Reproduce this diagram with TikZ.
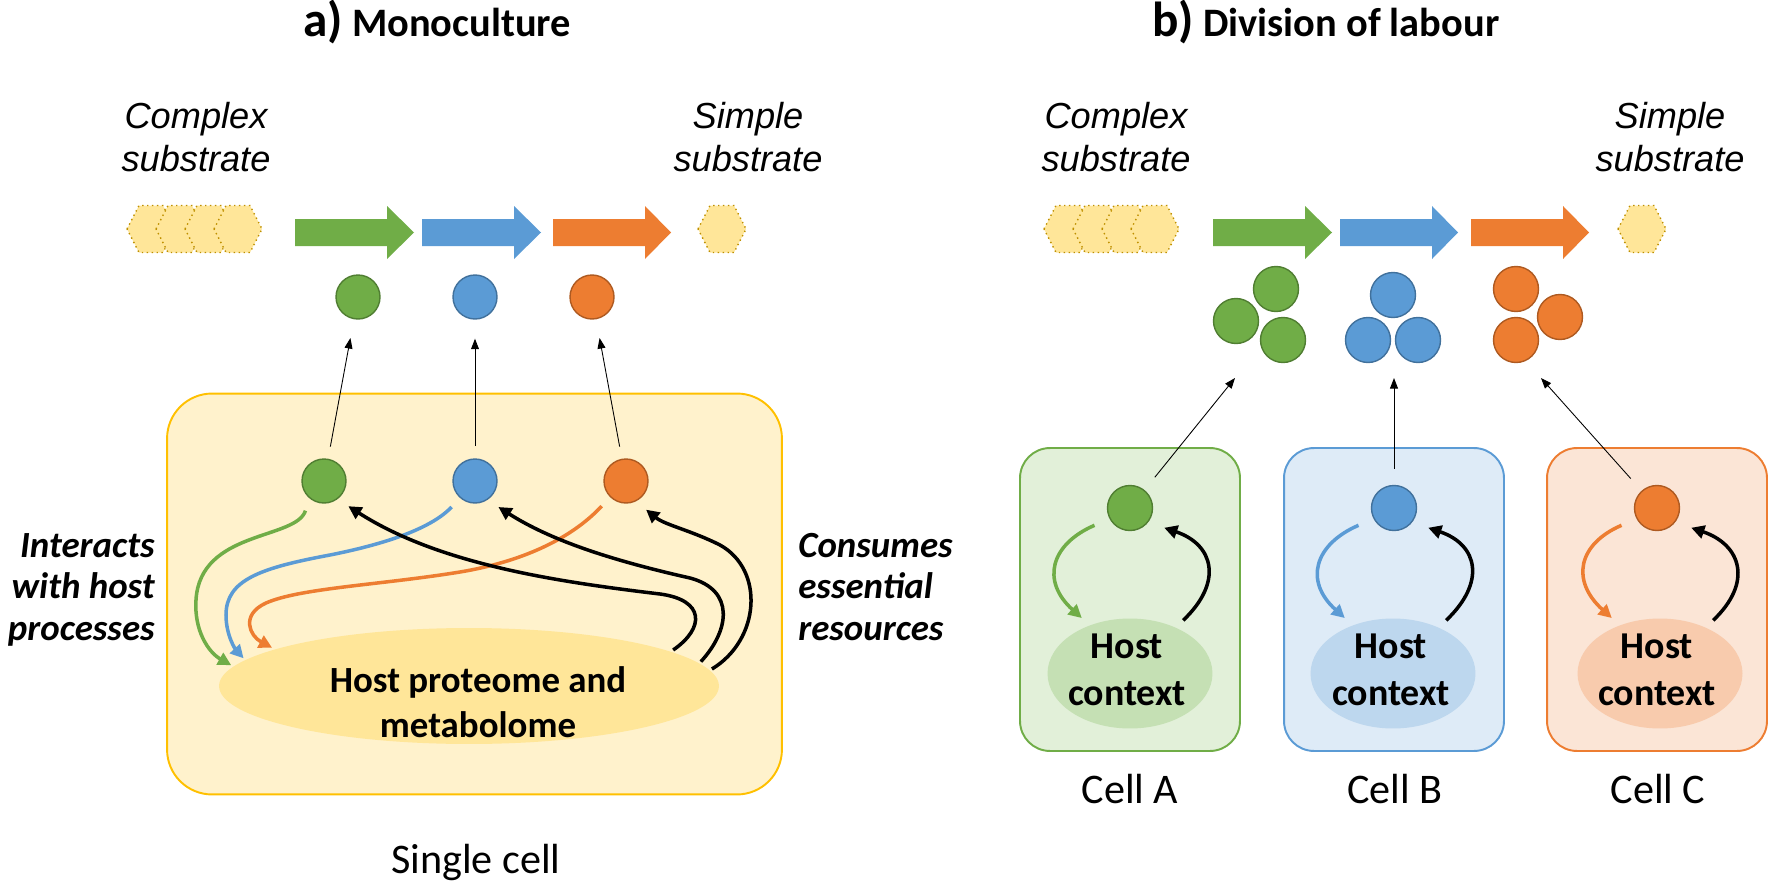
\documentclass[tikz,border=0pt]{standalone}
\usepackage{fontspec}
\setmainfont{Carlito}
\newfontfamily\substratefont{Liberation Sans}
\usetikzlibrary{shapes.geometric, arrows.meta}
\definecolor{EnzGreen}{HTML}{70AD47}
\definecolor{EnzGreenLine}{HTML}{507E32}
\definecolor{EnzBlue}{HTML}{5B9BD5}
\definecolor{EnzBlueLine}{HTML}{41719C}
\definecolor{EnzOrange}{HTML}{ED7D31}
\definecolor{EnzOrangeLine}{HTML}{AE5A21}
\definecolor{HexFill}{HTML}{FFE699}
\definecolor{HexLine}{HTML}{BF9000}
\definecolor{CellFill}{HTML}{FFF2CC}
\definecolor{CellLine}{HTML}{FFC000}
\definecolor{HostFill}{HTML}{FFE699}
\definecolor{CellAFill}{HTML}{E2F0D9}
\definecolor{CellBFill}{HTML}{DEEBF7}
\definecolor{CellCFill}{HTML}{FBE5D6}
\definecolor{HostAFill}{HTML}{C5E0B4}
\definecolor{HostBFill}{HTML}{BDD7EE}
\definecolor{HostCFill}{HTML}{F8CBAD}
\tikzset{
    title/.style={font=\fontsize{23}{28}\selectfont\bfseries, inner sep=0pt},
    substrate/.style={font=\substratefont\itshape\fontsize{20.6}{25}\selectfont, align=center, anchor=base, inner sep=0pt},
    sidelabel/.style={font=\fontsize{21}{23.5}\selectfont\bfseries\itshape, inner sep=0pt},
    celllabel/.style={font=\fontsize{24}{28}\selectfont, anchor=base, inner sep=0pt},
    hosttext/.style={font=\fontsize{21}{25.6}\selectfont\bfseries, align=center, anchor=base, inner sep=0pt},
    hexa/.style={fill=HexFill, draw=HexLine, line width=0.8pt, dotted},
    enzyme/.style={circle, minimum size=0.88cm, inner sep=0pt, line width=0.8pt},
    inner/.style={enzyme, outer sep=0.26cm},
    cellenz/.style={enzyme, minimum size=0.9cm, outer sep=0.34cm},
    cellbox/.style={rounded corners=0.6cm, line width=1.1pt, minimum width=4.4cm, minimum height=6.06cm, inner sep=0pt},
    hostctx/.style={ellipse, minimum width=3.3cm, minimum height=2.2cm, inner sep=0pt, outer sep=0.2cm},
    smallarr/.style={-{Triangle[length=6pt,width=4.5pt]}, line width=0.5pt},
    curvearr/.style={-{Triangle[length=7.5pt,width=7.5pt]}, line width=2pt}
}
\newcommand{\substratehex}[2]{%
  \draw[hexa] (#1-24,#2) -- (#1-12,#2-23.5) -- (#1+12,#2-23.5) -- (#1+24,#2)
    -- (#1+12,#2+23.5) -- (#1-12,#2+23.5) -- cycle;}
\newcommand{\flowarrow}[4]{%
  \fill[#4] (#1,219) -- (#2,219) -- (#2,206) -- (#3,232.5) -- (#2,259)
    -- (#2,246) -- (#1,246) -- cycle;}

\begin{document}
\begin{tikzpicture}[x=0.02cm, y=-0.02cm]
  \useasboundingbox (0,0) rectangle (1769,882);

  % titles
  \node[title, anchor=base west] (titlea) at (303,37) {{\fontsize{28}{30}\selectfont a)}\ Monoculture};
  \node[title, anchor=base west] (titleb) at (1152,37) {{\fontsize{28}{30}\selectfont b)}\ Division of labour};

  % ---- a) monoculture ----
  \node[substrate] (complexa) at (196,172) {Complex\\substrate};
  \node[substrate] (simplea) at (748,172) {Simple\\substrate};

  \substratehex{151}{229}
  \substratehex{180}{229}
  \substratehex{209}{229}
  \substratehex{238}{229}
  \substratehex{722}{229}

  \flowarrow{295}{387}{414}{EnzGreen}
  \flowarrow{422}{514}{541}{EnzBlue}
  \flowarrow{553}{645}{671}{EnzOrange}

  \node[enzyme, fill=EnzGreen, draw=EnzGreenLine] (pg) at (358,297) {};
  \node[enzyme, fill=EnzBlue, draw=EnzBlueLine] (pb) at (475,297) {};
  \node[enzyme, fill=EnzOrange, draw=EnzOrangeLine] (po) at (592,297) {};

  \node[cellbox, rounded corners=0.9cm, fill=CellFill, draw=CellLine, minimum width=12.3cm, minimum height=8.02cm] (cell) at (474.5,594) {};
  \node[ellipse, fill=HostFill, minimum width=10cm, minimum height=2.32cm, inner sep=0pt, outer sep=0.06cm] (host) at (469,686) {};
  \node[hosttext] (hosttxt) at (478,737) {Host proteome and\\metabolome};

  \node[inner, fill=EnzGreen, draw=EnzGreenLine] (ig) at (324,481) {};
  \node[inner, fill=EnzBlue, draw=EnzBlueLine] (ib) at (475,481) {};
  \node[inner, fill=EnzOrange, draw=EnzOrangeLine] (io) at (626,481) {};

  \draw[smallarr, shorten >=0.38cm] (ig) -- (pg);
  \draw[smallarr, shorten >=0.38cm] (ib) -- (pb);
  \draw[smallarr, shorten >=0.38cm] (io) -- (po);

  % enzymes acting on the host
  \draw[curvearr, EnzGreen] (ig.238) .. controls (296,540) and (200,530) .. (196,600)
    .. controls (194,630) and (208,652) .. (host.175);
  \draw[curvearr, EnzBlue] (ib.228) .. controls (430,530) and (380,545) .. (330,555)
    .. controls (260,568) and (226,580) .. (226,615) .. controls (226,636) and (236,650) .. (host.173);
  \draw[curvearr, EnzOrange] (io.226) .. controls (570,540) and (520,562) .. (460,572)
    .. controls (380,585) and (300,588) .. (266,603) .. controls (240,615) and (250,636) .. (host.169);

  % host resources consumed
  \draw[curvearr] (host.10) .. controls (705,628) and (705,600) .. (660,594)
    .. controls (560,582) and (440,565) .. (ig.314);
  \draw[curvearr] (host.6) .. controls (730,630) and (735,590) .. (690,578)
    .. controls (610,560) and (550,540) .. (ib.312);
  \draw[curvearr] (host.4) .. controls (760,640) and (765,570) .. (720,545)
    .. controls (690,530) and (665,525) .. (io.305);

  \node[sidelabel, anchor=base east, align=right] (interacts) at (155,640) {Interacts\\with host\\processes};
  \node[sidelabel, anchor=base west, align=left] (consumes) at (798,640) {Consumes\\essential\\resources};
  \node[celllabel] (single) at (476,873) {Single cell};

  % ---- b) division of labour ----
  \node[substrate] (complexb) at (1116,172) {Complex\\substrate};
  \node[substrate] (simpleb) at (1670,172) {Simple\\substrate};

  \substratehex{1068}{229}
  \substratehex{1097}{229}
  \substratehex{1126}{229}
  \substratehex{1155}{229}
  \substratehex{1642}{229}

  \flowarrow{1213}{1305}{1332}{EnzGreen}
  \flowarrow{1340}{1432}{1458}{EnzBlue}
  \flowarrow{1471}{1563}{1589}{EnzOrange}

  \node[enzyme, minimum size=0.9cm, fill=EnzGreen, draw=EnzGreenLine] (ga1) at (1276,289) {};
  \node[enzyme, minimum size=0.9cm, fill=EnzGreen, draw=EnzGreenLine] (ga2) at (1236,321) {};
  \node[enzyme, minimum size=0.9cm, fill=EnzGreen, draw=EnzGreenLine] (ga3) at (1283,340) {};
  \node[enzyme, minimum size=0.9cm, fill=EnzBlue, draw=EnzBlueLine] (ba1) at (1393,295) {};
  \node[enzyme, minimum size=0.9cm, fill=EnzBlue, draw=EnzBlueLine] (ba2) at (1368,340) {};
  \node[enzyme, minimum size=0.9cm, fill=EnzBlue, draw=EnzBlueLine] (ba3) at (1418,340) {};
  \node[enzyme, minimum size=0.9cm, fill=EnzOrange, draw=EnzOrangeLine] (oa1) at (1516,289) {};
  \node[enzyme, minimum size=0.9cm, fill=EnzOrange, draw=EnzOrangeLine] (oa2) at (1560,317) {};
  \node[enzyme, minimum size=0.9cm, fill=EnzOrange, draw=EnzOrangeLine] (oa3) at (1516,340) {};

  \node[cellbox, fill=CellAFill, draw=EnzGreen] (cella) at (1130,599.5) {};
  \node[cellbox, fill=CellBFill, draw=EnzBlue] (cellb) at (1394,599.5) {};
  \node[cellbox, fill=CellCFill, draw=EnzOrange] (cellc) at (1657,599.5) {};

  \node[hostctx, fill=HostAFill] (ha) at (1130,673.5) {};
  \node[hostctx, fill=HostBFill] (hb) at (1393,673.5) {};
  \node[hostctx, fill=HostCFill] (hc) at (1660,673.5) {};
  \node[hosttext, font=\fontsize{21.6}{26.7}\selectfont\bfseries] (ta) at (1127,705) {Host\\context};
  \node[hosttext, font=\fontsize{21.6}{26.7}\selectfont\bfseries] (tb) at (1391,705) {Host\\context};
  \node[hosttext, font=\fontsize{21.6}{26.7}\selectfont\bfseries] (tc) at (1657,705) {Host\\context};

  \node[cellenz, fill=EnzGreen, draw=EnzGreenLine] (ea) at (1130,508) {};
  \node[cellenz, fill=EnzBlue, draw=EnzBlueLine] (eb) at (1394,508) {};
  \node[cellenz, fill=EnzOrange, draw=EnzOrangeLine] (ec) at (1657,508) {};

  \coordinate (tipa) at (1235,378);
  \coordinate (tipb) at (1394,378);
  \coordinate (tipc) at (1541,378);
  \draw[smallarr] (ea) -- (tipa);
  \draw[smallarr] (eb) -- (tipb);
  \draw[smallarr] (ec) -- (tipc);

  \draw[curvearr, EnzGreen] (ea.206) .. controls +(-44,19) and +(-41,-37) .. (ha.131);
  \draw[curvearr] (ha.45) .. controls +(40,-38) and +(50,17) .. (ea.330);
  \draw[curvearr, EnzBlue] (eb.206) .. controls +(-44,19) and +(-41,-37) .. (hb.131);
  \draw[curvearr] (hb.45) .. controls +(40,-38) and +(50,17) .. (eb.330);
  \draw[curvearr, EnzOrange] (ec.206) .. controls +(-44,19) and +(-41,-37) .. (hc.131);
  \draw[curvearr] (hc.45) .. controls +(40,-38) and +(50,17) .. (ec.330);

  \node[celllabel] (labela) at (1130,803) {Cell A};
  \node[celllabel] (labelb) at (1395,803) {Cell B};
  \node[celllabel] (labelc) at (1658,803) {Cell C};
\end{tikzpicture}
\end{document}
